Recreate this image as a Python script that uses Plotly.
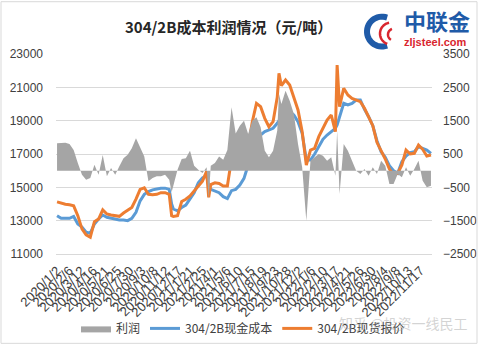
import plotly.graph_objects as go
import numpy as np

dates = [
    "2020-01-02","2020-01-14","2020-01-26","2020-02-07","2020-02-19","2020-03-02","2020-03-14","2020-03-26",
    "2020-04-07","2020-04-19","2020-05-01","2020-05-13","2020-05-25","2020-06-06","2020-06-18","2020-06-30",
    "2020-07-12","2020-07-24","2020-08-05","2020-08-17","2020-08-29","2020-09-10","2020-09-22","2020-10-04",
    "2020-10-16","2020-10-28","2020-11-09","2020-11-21","2020-11-28","2020-12-03","2020-12-15","2020-12-27",
    "2021-01-08","2021-01-20","2021-02-01","2021-02-13","2021-02-25","2021-03-09","2021-03-15","2021-03-21",
    "2021-04-02","2021-04-14","2021-04-26","2021-05-08","2021-05-20","2021-06-01","2021-06-13","2021-06-25",
    "2021-07-07","2021-07-19","2021-07-31","2021-08-12","2021-08-24","2021-09-05","2021-09-17","2021-09-29",
    "2021-10-04","2021-10-11","2021-10-23","2021-11-04","2021-11-16","2021-11-28","2021-12-10","2021-12-22",
    "2022-01-03","2022-01-15","2022-01-27","2022-02-08","2022-02-20","2022-03-04","2022-03-16","2022-03-21",
    "2022-03-28","2022-04-09","2022-04-21","2022-05-03","2022-05-15","2022-05-27","2022-06-08","2022-06-20",
    "2022-07-02","2022-07-14","2022-07-26","2022-08-07","2022-08-19","2022-08-31","2022-09-12","2022-09-24",
    "2022-10-06","2022-10-18","2022-10-30","2022-11-11","2022-11-23","2022-12-05","2022-12-17",
]

cost = [
    13300,13150,13140,13140,13250,12800,12610,12310,
    12250,12800,13100,13340,13200,13140,13060,13040,
    13040,13000,13140,13500,14190,14580,14740,14850,
    14900,14950,14950,14880,14000,13700,13590,13790,
    13930,14285,14680,15270,15570,15700,15100,14880,
    14780,14680,14440,14325,14800,14880,15140,15540,
    16340,17440,18240,18140,18340,18440,18540,18840,
    19000,19140,19540,19540,19340,18940,18240,16640,
    16640,17000,17440,17880,18140,18340,18540,18740,
    19240,20040,19940,20040,20240,20240,19680,19240,
    18700,17800,17140,16800,16300,16000,15840,16540,
    16880,17080,17140,17440,17340,17240,17040,
]

price = [
    14130,14050,13990,13950,13890,13300,12510,12150,
    12010,12940,13100,13650,13400,13340,13300,13260,
    13460,13600,13790,14290,14880,14975,14580,14550,
    14580,14680,14680,14580,13300,13250,13300,14150,
    14285,14480,14780,15075,15370,15960,14400,15170,
    15270,15230,15075,15075,16700,16260,16340,16840,
    17440,18940,20040,19840,19140,18640,18940,20400,
    21840,21100,21440,21140,20340,19640,18340,16340,
    17240,17340,18040,18540,19040,19340,18340,22340,
    19840,20940,20540,20340,20240,20140,19740,19200,
    18700,17700,17240,16700,16100,15750,15840,16340,
    17240,17000,17040,17540,17280,16880,16940,
]

profit = [
    820,820,840,800,620,230,-120,-270,
    -220,180,-120,470,-170,80,-120,130,
    375,475,670,970,720,425,-315,-220,
    -170,-170,-120,-270,-650,-450,30,350,
    375,600,150,30,-70,100,-850,150,
    230,425,325,620,1900,1115,1350,1500,
    1100,1500,1600,1300,600,400,600,1200,
    2300,2000,2400,2100,1700,800,100,-1500,
    300,400,500,450,300,400,-150,1200,
    -700,800,600,300,0,-100,50,-150,
    100,-100,300,150,-400,-400,-100,-200,
    100,-150,50,300,-300,-500,-450,
]

tick_dates = [
    "2020-01-02","2020-02-06","2020-03-12","2020-04-16","2020-05-21","2020-06-25","2020-07-30","2020-09-03",
    "2020-10-08","2020-11-12","2020-12-17","2021-01-21","2021-02-25","2021-04-01","2021-05-06","2021-06-10",
    "2021-07-15","2021-08-19","2021-09-23","2021-10-28","2021-12-02","2022-01-06","2022-02-10","2022-03-17",
    "2022-04-21","2022-05-26","2022-06-30","2022-08-04","2022-09-08","2022-10-13","2022-11-17",
]
tick_text = [
    "2020/1/2","2020/2/6","2020/3/12","2020/4/16","2020/5/21","2020/6/25","2020/7/30","2020/9/3",
    "2020/10/8","2020/11/12","2020/12/17","2021/1/21","2021/2/25","2021/4/1","2021/5/6","2021/6/10",
    "2021/7/15","2021/8/19","2021/9/23","2021/10/28","2021/12/2","2022/1/6","2022/2/10","2022/3/17",
    "2022/4/21","2022/5/26","2022/6/30","2022/8/4","2022/9/8","2022/10/13","2022/11/17",
]

BLUE = "#5B9BD5"
ORANGE = "#ED7D31"
GRAY = "#A5A5A5"
NUM_FONT = "Liberation Sans, Arial, sans-serif"
CJK_FONT = "Noto Sans CJK SC, Microsoft YaHei, sans-serif"

fig = go.Figure()
fig.add_trace(go.Scatter(x=dates, y=profit, yaxis="y2", name="利润", mode="lines",
                         line=dict(width=0, color=GRAY), fill="tozeroy", fillcolor=GRAY))
fig.add_trace(go.Scatter(x=dates, y=cost, name="304/2B现金成本", mode="lines",
                         line=dict(width=3, color=BLUE)))
fig.add_trace(go.Scatter(x=dates, y=price, name="304/2B现货报价", mode="lines",
                         line=dict(width=3, color=ORANGE)))

L, R, T, B = 56, 48, 53.5, 92.7
W, H = 480, 347
PW, PH = W - L - R, H - T - B

def px(xp):
    return (xp - L) / PW

def py(yp):
    return (H - B - yp) / PH

fig.update_layout(
    width=W, height=H,
    margin=dict(l=L, r=R, t=T, b=B, autoexpand=False),
    paper_bgcolor="white", plot_bgcolor="white",
    showlegend=True,
    legend=dict(orientation="h", x=px(243), y=py(329), xanchor="center", yanchor="middle",
                font=dict(family=CJK_FONT, size=12, color="#404040"), itemwidth=30,
                traceorder="normal", bgcolor="rgba(0,0,0,0)"),
    xaxis=dict(type="date", range=["2019-12-30", "2022-12-20"], tickvals=tick_dates, ticktext=tick_text,
               tickangle=-45, tickfont=dict(family=NUM_FONT, size=13, color="#404040"),
               showgrid=False, showline=True, linecolor="#D9D9D9", linewidth=1, zeroline=False,
               ticks="", automargin=False, ticklabelstandoff=3),
    yaxis=dict(range=[11000, 23000], dtick=2000, tick0=11000, tickformat="d", showgrid=True,
               gridcolor="#D9D9D9", gridwidth=1, zeroline=False,
               tickfont=dict(family=NUM_FONT, size=12, color="#404040"),
               ticklabelstandoff=12, showline=False, automargin=False),
    yaxis2=dict(range=[-2500, 3500], dtick=1000, tick0=-2500, tickformat="d", overlaying="y", side="right",
                showgrid=False, zeroline=False, tickfont=dict(family=NUM_FONT, size=12, color="#404040"),
                ticklabelstandoff=10, showline=False, automargin=False),
)

annotations = [
    dict(text="<b>304/2B成本利润情况（元/吨）</b>", x=px(228), y=py(26), xref="paper", yref="paper",
         showarrow=False, font=dict(family=CJK_FONT, size=15, color="#262626"), xanchor="center", yanchor="middle"),
    dict(text="<b>中联金</b>", x=px(437), y=py(19), xref="paper", yref="paper", showarrow=False,
         font=dict(family=CJK_FONT, size=22, color="#1F5BA8"), xanchor="center", yanchor="middle"),
    dict(text="<b>zljsteel.com</b>", x=px(435), y=py(41), xref="paper", yref="paper", showarrow=False,
         font=dict(family=NUM_FONT, size=11, color="#D9262E"), xanchor="center", yanchor="middle"),
    dict(text="知乎 @投资一线民工", x=px(403), y=py(324), xref="paper", yref="paper", showarrow=False,
         font=dict(family=CJK_FONT, size=14, color="rgba(170,170,170,0.5)"), xanchor="center", yanchor="middle"),
]
fig.update_layout(annotations=annotations)

def arc_path(cx, cy, r, a0, a1, n=30):
    t = np.linspace(np.radians(a0), np.radians(a1), n)
    pts = [(px(cx + r * np.cos(a)), py(cy - r * np.sin(a))) for a in t]
    return "M " + " L ".join(f"{x:.5f},{y:.5f}" for x, y in pts)

shapes = [
    dict(type="path", xref="paper", yref="paper", path=arc_path(382, 31, 15, 70, 290),
         line=dict(color="#1F5BA8", width=6)),
    dict(type="path", xref="paper", yref="paper", path=arc_path(391, 33, 11, 100, 250),
         line=dict(color="#D9262E", width=2.5)),
    dict(type="path", xref="paper", yref="paper", path=arc_path(394, 34, 6, 110, 240),
         line=dict(color="#D9262E", width=2.5)),
    dict(type="rect", xref="paper", yref="paper", x0=px(1), x1=px(477), y0=py(344), y1=py(1),
         line=dict(color="#D9D9D9", width=1)),
]
fig.update_layout(shapes=shapes)

fig.write_html("out.html")
